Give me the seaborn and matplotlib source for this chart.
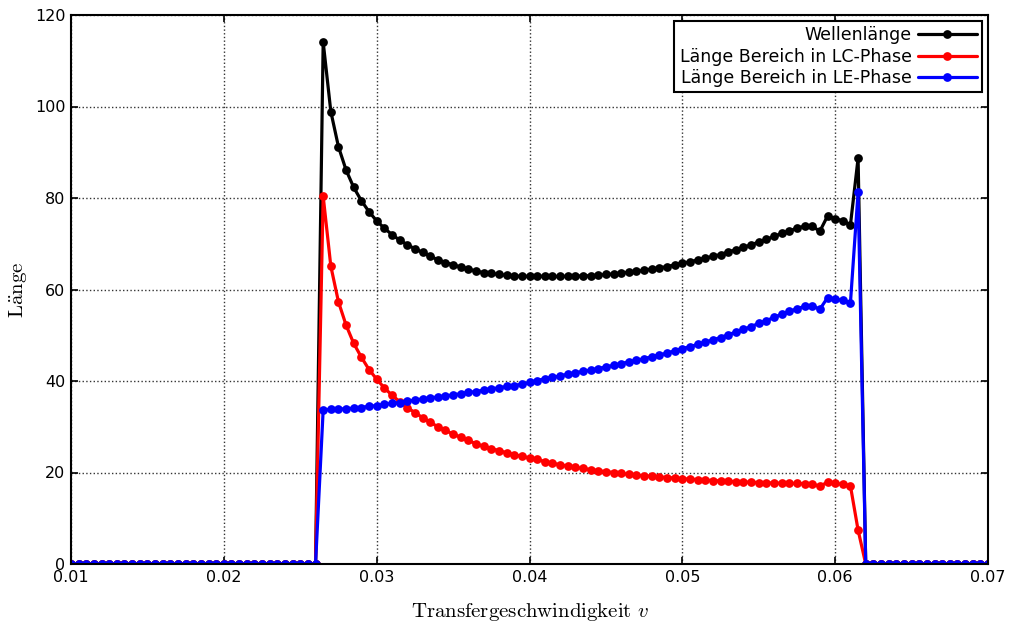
import numpy as np
import pandas as pd
import matplotlib
matplotlib.use("Agg")
import matplotlib.pyplot as plt
from matplotlib.lines import Line2D
import seaborn as sns

# ---------------- data ----------------
v_start, v_stop, v_step = 0.01, 0.07, 0.0005
v = np.round(np.arange(v_start, v_stop + v_step / 2, v_step), 4)

zeros_before = [0.0] * 33   # 0.0100 ... 0.0260
zeros_after = [0.0] * 17    # 0.0620 ... 0.0700

# 0.0265 ... 0.0615
lc_active = [80.4, 65.1, 57.3, 52.2, 48.2, 45.2, 42.5, 40.4, 38.5, 36.9,
             35.5, 34.2, 33.1, 32.0, 31.0, 30.0, 29.2, 28.4, 27.7, 27.0,
             26.3, 25.7, 25.2, 24.8, 24.3, 23.9, 23.5, 23.2, 22.85, 22.4,
             22.0, 21.7, 21.4, 21.1, 20.9, 20.6, 20.4, 20.2, 20.0, 19.8,
             19.6, 19.45, 19.3, 19.2, 19.05, 18.9, 18.8, 18.65, 18.55, 18.45,
             18.35, 18.25, 18.15, 18.1, 18.0, 17.95, 17.85, 17.8, 17.75, 17.7,
             17.65, 17.6, 17.6, 17.55, 17.4, 17.05, 17.85, 17.6, 17.4, 17.05,
             7.4]
le_active = [33.7, 33.8, 33.9, 33.9, 34.1, 34.2, 34.5, 34.6, 34.9, 35.1,
             35.3, 35.6, 35.8, 36.1, 36.3, 36.5, 36.7, 37.0, 37.2, 37.5,
             37.7, 38.0, 38.3, 38.5, 38.8, 39.0, 39.3, 39.7, 40.1, 40.5,
             40.8, 41.1, 41.5, 41.8, 42.1, 42.4, 42.7, 43.1, 43.4, 43.8,
             44.2, 44.5, 44.9, 45.3, 45.7, 46.1, 46.6, 47.1, 47.5, 48.0,
             48.5, 49.0, 49.5, 50.1, 50.7, 51.3, 51.9, 52.6, 53.2, 53.9,
             54.6, 55.2, 55.8, 56.3, 56.4, 55.7, 58.2, 57.9, 57.6, 57.1,
             81.3]
wave_active = [114.1, 98.9, 91.2, 86.1, 82.3, 79.4, 77.0, 75.0, 73.4, 72.0,
               70.8, 69.8, 68.9, 68.1, 67.3, 66.5, 65.9, 65.4, 64.9, 64.5,
               64.0, 63.7, 63.5, 63.3, 63.1, 62.95, 62.9, 62.9, 62.9, 62.9,
               62.85, 62.85, 62.9, 62.9, 63.0, 63.0, 63.1, 63.3, 63.4, 63.6,
               63.8, 63.95, 64.2, 64.5, 64.75, 65.0, 65.4, 65.75, 66.05, 66.45,
               66.85, 67.25, 67.65, 68.2, 68.7, 69.25, 69.75, 70.4, 70.95, 71.6,
               72.25, 72.8, 73.4, 73.85, 73.8, 72.75, 76.05, 75.5, 75.0, 74.15,
               88.7]

wellenlaenge = zeros_before + wave_active + zeros_after
laenge_lc = zeros_before + lc_active + zeros_after
laenge_le = zeros_before + le_active + zeros_after

series_names = ["Wellenlänge", "Länge Bereich in LC-Phase", "Länge Bereich in LE-Phase"]
series_colors = ["black", "red", "blue"]

x_ticks = [0.01, 0.02, 0.03, 0.04, 0.05, 0.06, 0.07]
y_ticks = [0, 20, 40, 60, 80, 100, 120]

df = pd.concat([
    pd.DataFrame({"v": v, "val": wellenlaenge, "series": series_names[0]}),
    pd.DataFrame({"v": v, "val": laenge_lc, "series": series_names[1]}),
    pd.DataFrame({"v": v, "val": laenge_le, "series": series_names[2]}),
], ignore_index=True)

# ---------------- style ----------------
sns.set_style("ticks")
plt.rcParams.update({
    "font.family": ["DejaVu Sans"],
    "mathtext.fontset": "cm",
    "xtick.direction": "in",
    "ytick.direction": "in",
    "xtick.top": True,
    "ytick.right": True,
    "xtick.color": "black",
    "ytick.color": "black",
    "text.color": "black",
    "axes.labelcolor": "black",
    "axes.edgecolor": "black",
})

fig = plt.figure(figsize=(10.1, 6.25), dpi=100)
ax = fig.add_axes([71 / 1010, 1 - 564 / 625, (988 - 71) / 1010, (564 - 15) / 625])

sns.lineplot(data=df, x="v", y="val", hue="series", hue_order=series_names,
             palette=dict(zip(series_names, series_colors)),
             marker="o", markersize=6.3, markeredgewidth=0, linewidth=2.3,
             sort=False, estimator=None, legend=False, ax=ax)

ax.set_xlim(x_ticks[0], x_ticks[-1])
ax.set_ylim(y_ticks[0], y_ticks[-1])
ax.set_xticks(x_ticks)
ax.set_yticks(y_ticks)
ax.set_xticklabels([f"{t:g}" for t in x_ticks])
ax.tick_params(axis="both", which="major", labelsize=11.5, labelcolor="black",
               length=5, width=1.2, pad=4)
ax.grid(True, linestyle=":", color="#333333", linewidth=1.0)
for s in ax.spines.values():
    s.set_linewidth(1.5)
    s.set_color("black")

ax.set_xlabel(r"$\mathrm{Transfergeschwindigkeit}\ v$", fontsize=15, labelpad=12)
ax.set_ylabel(r"$\mathrm{L\ddot{a}nge}$", fontsize=15, labelpad=4)

handles = [Line2D([0], [0], color=c, linewidth=2.3, marker="o", markersize=6.3,
                  markeredgewidth=0) for c in series_colors]
leg = ax.legend(handles, series_names, loc="upper right", fontsize=12.5,
                markerfirst=False, fancybox=False, framealpha=1,
                edgecolor="black", handlelength=3.4, borderaxespad=0.35,
                labelspacing=0.2, handletextpad=0.35, borderpad=0.3)
leg.get_frame().set_linewidth(1.5)

fig.savefig("out.png", dpi=100)
